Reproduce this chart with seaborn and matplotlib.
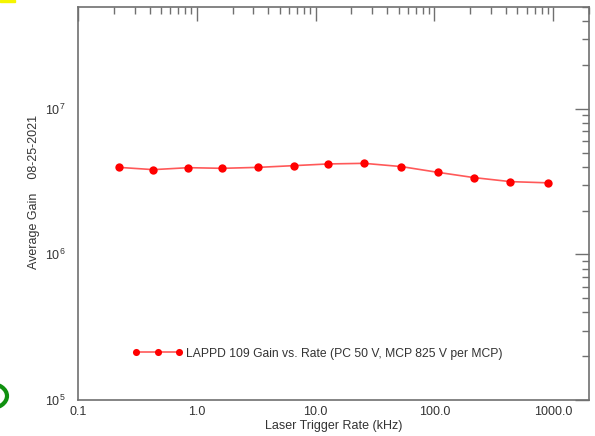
import matplotlib
matplotlib.use("Agg")
import matplotlib.pyplot as plt
import matplotlib.ticker as mticker
from matplotlib.patches import Circle, Rectangle
import seaborn as sns
import pandas as pd

rate_khz = [0.22, 0.43, 0.85, 1.64, 3.3, 6.6, 12.8, 25.6, 52.5, 107, 214, 436, 906]
gain = [3.96e6, 3.82e6, 3.94e6, 3.90e6, 3.96e6, 4.07e6, 4.18e6, 4.22e6, 4.01e6,
        3.66e6, 3.37e6, 3.16e6, 3.10e6]
series_label = "LAPPD 109 Gain vs. Rate (PC 50 V, MCP 825 V per MCP)"
x_ticks = [0.1, 1.0, 10.0, 100.0, 1000.0]
x_tick_labels = ["0.1", "1.0", "10.0", "100.0", "1000.0"]
y_ticks = [1e5, 1e6, 1e7]
y_tick_labels = [r"10$^5$", r"10$^6$", r"10$^7$"]

df = pd.DataFrame({"rate": rate_khz, "gain": gain})

sns.set_style("white")
plt.rcParams["font.family"] = ["Liberation Sans", "DejaVu Sans"]
plt.rcParams["mathtext.fontset"] = "custom"
plt.rcParams["mathtext.rm"] = "Liberation Sans"
plt.rcParams["mathtext.it"] = "Liberation Sans"

fig = plt.figure(figsize=(5.95, 4.36), dpi=100)
ax = fig.add_axes([78/595, 1 - 400/436, (589 - 78)/595, (400 - 7)/436])

sns.lineplot(data=df, x="rate", y="gain", ax=ax, color="red", marker="o",
             markersize=6, markeredgewidth=0, linewidth=1.2,
             label=series_label)
for l in ax.lines:
    l.set_color((1, 0.35, 0.35))
    l.set_markerfacecolor("red")
    l.set_markeredgecolor("red")

ax.set_xscale("log")
ax.set_yscale("log")
ax.set_xlim(0.1, 2000)
ax.set_ylim(1e5, 5e7)

ax.set_xticks(x_ticks)
ax.set_xticklabels(x_tick_labels)
ax.set_yticks(y_ticks)
ax.set_yticklabels(y_tick_labels)
ax.xaxis.set_minor_locator(mticker.LogLocator(base=10, subs=range(2, 10), numticks=20))
ax.yaxis.set_minor_locator(mticker.LogLocator(base=10, subs=range(2, 10), numticks=20))
ax.xaxis.set_minor_formatter(mticker.NullFormatter())
ax.yaxis.set_minor_formatter(mticker.NullFormatter())

axc = "#707070"
ax.tick_params(which="major", direction="in", length=10, width=1.0, color=axc,
               top=True, right=True, labelsize=9, labelcolor="#333333", pad=4)
ax.tick_params(axis="y", which="major", pad=9)
ax.tick_params(which="minor", direction="in", length=5, width=1.0, color=axc,
               top=True, right=True)
for s in ax.spines.values():
    s.set_color(axc)
    s.set_linewidth(1.2)

ax.set_xlabel("Laser Trigger Rate (kHz)", fontsize=9, color="#333333", labelpad=2)
ax.set_ylabel("Average Gain    08-25-2021", fontsize=9, color="#333333")
ax.yaxis.set_label_coords(-0.074, 0.53)

leg = ax.legend(loc="lower left", bbox_to_anchor=(0.086, 0.075), frameon=False,
                fontsize=8.7, handlelength=4.1, numpoints=3, markerscale=0.85,
                handletextpad=0.3)
for t in leg.get_texts():
    t.set_color("#333333")

# slide decorations
fig.patches.append(Rectangle((0, 1 - 2/436), 15/595, 2/436, transform=fig.transFigure,
                             color="#f5f500", zorder=5))
fig.patches.append(Circle((-10/595, 1 - 396/436), 17/595, transform=fig.transFigure,
                          fill=False, edgecolor="#109010", linewidth=3, zorder=5))

fig.savefig("out.png", dpi=100)
